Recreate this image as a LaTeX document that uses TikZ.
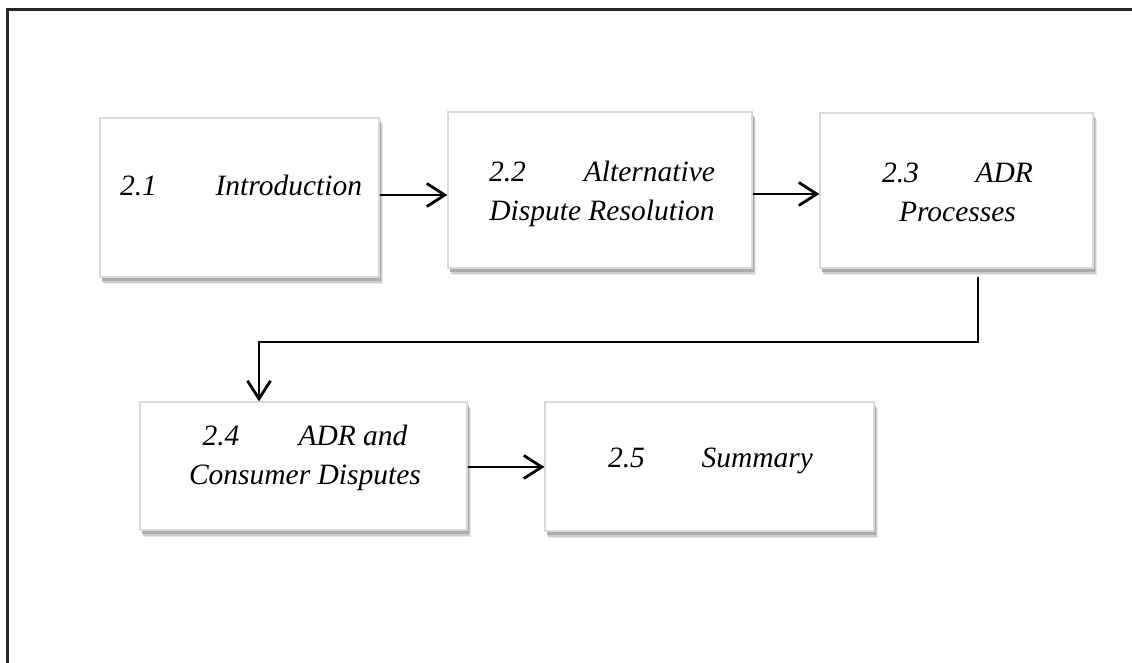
\documentclass[tikz,border=0pt]{standalone}
\usepackage{fontspec}
\setmainfont{Liberation Serif}
\usetikzlibrary{arrows.meta,shadows}
\begin{document}
\begin{tikzpicture}[x=1pt,y=-1pt,
  box/.style={rectangle,draw=gray!30,line width=1.2pt,fill=white,inner sep=0pt,
    general shadow={shadow xshift=4pt,shadow yshift=-7pt,fill=gray!18},
    general shadow={shadow xshift=3pt,shadow yshift=-5.5pt,fill=gray!40},
    general shadow={shadow xshift=2pt,shadow yshift=-4pt,fill=gray!65}},
  lbl/.style={inner sep=0pt,anchor=base,font=\itshape\fontsize{29.5}{39}\selectfont},
  arr/.style={line width=2.8pt,-{Straight Barb[length=18pt,width=23pt]}},
  frame/.style={line width=2.6pt,draw=black!85}]
\useasboundingbox (0,0) rectangle (1132,663);
\fill[white] (0,0) rectangle (1132,663);
\draw[frame] (7.5,663) -- (7.5,9.5) -- (1132,9.5);

\node[box,minimum width=279pt,minimum height=159pt] (b1) at (239.5,197.5) {};
\node[box,minimum width=304pt,minimum height=156pt] (b2) at (600,190) {};
\node[box,minimum width=273pt,minimum height=155pt] (b3) at (956.5,190.5) {};
\node[box,minimum width=327pt,minimum height=128pt] (b4) at (303.5,466) {};
\node[box,minimum width=329pt,minimum height=129pt] (b5) at (709.5,466.5) {};

\node[lbl] (t1) at (241,196) {\makebox[242pt]{2.1\hfill Introduction}};
\node[lbl] (t2) at (602,182) {\begin{tabular}[t]{@{}c@{}}\makebox[226pt]{2.2\hfill Alternative}\\Dispute Resolution\end{tabular}};
\node[lbl] (t3) at (957.5,183) {\begin{tabular}[t]{@{}c@{}}\makebox[151pt]{2.3\hfill ADR}\\Processes\end{tabular}};
\node[lbl] (t4) at (305,445) {\begin{tabular}[t]{@{}c@{}}\makebox[205pt]{2.4\hfill ADR and}\\Consumer Disputes\end{tabular}};
\node[lbl] (t5) at (710.5,467) {\makebox[205pt]{2.5\hfill Summary}};

\draw[arr] (b1.east |- 0,195) -- (b2.west |- 0,195);
\draw[arr] (b2.east |- 0,194) -- (b3.west |- 0,194);
\draw[arr] ([xshift=21.5pt,yshift=-8pt]b3.south) |- (259,342) -- (b4.north -| 259,0);
\draw[arr] (b4.east |- 0,467) -- (b5.west |- 0,467);
\end{tikzpicture}
\end{document}
